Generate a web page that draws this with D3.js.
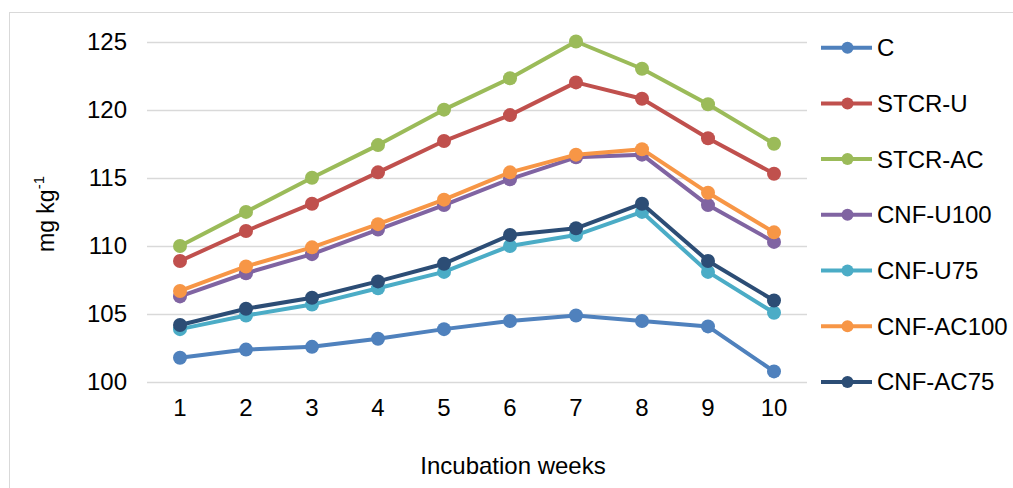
<!DOCTYPE html>
<html>
<head>
<meta charset="utf-8">
<script src="https://cdn.jsdelivr.net/npm/d3@7"></script>
<style>
  body { margin: 0; background: #fff; }
  text { font-family: "Liberation Sans", Arial, sans-serif; fill: #000; }
</style>
</head>
<body>
<div id="chart"></div>
<script>
var weeks = [1, 2, 3, 4, 5, 6, 7, 8, 9, 10];
var yTicks = [100, 105, 110, 115, 120, 125];
var seriesNames = ['C', 'STCR-U', 'STCR-AC', 'CNF-U100', 'CNF-U75', 'CNF-AC100', 'CNF-AC75'];
var seriesColors = ['#4F81BD', '#C0504D', '#9BBB59', '#8064A2', '#4BACC6', '#F79646', '#2C4D75'];

var valuesC = [101.8, 102.4, 102.6, 103.2, 103.9, 104.5, 104.9, 104.5, 104.1, 100.8];
var valuesStcrU = [108.9, 111.1, 113.1, 115.4, 117.7, 119.6, 122.0, 120.8, 117.9, 115.3];
var valuesStcrAc = [110.0, 112.5, 115.0, 117.4, 120.0, 122.3, 125.0, 123.0, 120.4, 117.5];
var valuesCnfU100 = [106.3, 108.0, 109.4, 111.2, 113.0, 114.9, 116.5, 116.7, 113.0, 110.3];
var valuesCnfU75 = [103.9, 104.9, 105.7, 106.9, 108.1, 110.0, 110.8, 112.5, 108.1, 105.1];
var valuesCnfAc100 = [106.7, 108.5, 109.9, 111.6, 113.4, 115.4, 116.7, 117.1, 113.9, 111.0];
var valuesCnfAc75 = [104.2, 105.4, 106.2, 107.4, 108.7, 110.8, 111.3, 113.1, 108.9, 106.0];

var allValues = [valuesC, valuesStcrU, valuesStcrAc, valuesCnfU100, valuesCnfU75, valuesCnfAc100, valuesCnfAc75];

var series = seriesNames.map(function (name, i) {
  return { name: name, color: seriesColors[i], values: allValues[i] };
});

var width = 1013;
var height = 488;
var fontSize = 24;

var svg = d3.select('#chart')
  .append('svg')
  .attr('width', width)
  .attr('height', height);

// chart frame (right and bottom edges fall outside the picture)
svg.append('rect')
  .attr('x', 9.5)
  .attr('y', 12.5)
  .attr('width', 1020)
  .attr('height', 500)
  .attr('fill', 'none')
  .attr('stroke', '#d9d9d9');

var x = d3.scaleBand()
  .domain(weeks)
  .range([147, 807]);

var y = d3.scaleLinear()
  .domain([100, 125])
  .range([382.3, 41.5]);

// gridlines
svg.append('g')
  .selectAll('line')
  .data(yTicks)
  .enter()
  .append('line')
  .attr('x1', 147)
  .attr('x2', 807)
  .attr('y1', function (d) { return Math.round(y(d)) + 0.5; })
  .attr('y2', function (d) { return Math.round(y(d)) + 0.5; })
  .attr('stroke', '#d9d9d9')
  .attr('stroke-width', 1.3);

// y axis labels
var yAxis = d3.axisLeft(y).tickValues(yTicks).tickSize(0).tickPadding(20);
var gy = svg.append('g')
  .attr('transform', 'translate(147,0)')
  .call(yAxis);
gy.select('.domain').remove();
gy.selectAll('text')
  .attr('font-size', fontSize)
  .attr('fill', '#000')
  .attr('font-family', '"Liberation Sans", Arial, sans-serif');

// x axis labels
var xAxis = d3.axisBottom(x).tickSize(0).tickPadding(17);
var gx = svg.append('g')
  .attr('transform', 'translate(0,382.3)')
  .call(xAxis);
gx.select('.domain').remove();
gx.selectAll('text')
  .attr('font-size', fontSize)
  .attr('fill', '#000')
  .attr('font-family', '"Liberation Sans", Arial, sans-serif');

// axis titles
svg.append('text')
  .attr('x', 513)
  .attr('y', 465)
  .attr('text-anchor', 'middle')
  .attr('dominant-baseline', 'central')
  .attr('font-size', fontSize)
  .text('Incubation weeks');

var yTitle = svg.append('text')
  .attr('transform', 'translate(46,214) rotate(-90)')
  .attr('text-anchor', 'middle')
  .attr('dominant-baseline', 'central')
  .attr('font-size', 23);
yTitle.append('tspan').text('mg kg');
yTitle.append('tspan')
  .attr('font-size', 15)
  .attr('dy', -8)
  .text('-1');

// lines and markers
var line = d3.line()
  .x(function (d, i) { return x(weeks[i]) + x.bandwidth() / 2; })
  .y(function (d) { return y(d); });

var groups = svg.append('g')
  .selectAll('g')
  .data(series)
  .enter()
  .append('g');

groups.append('path')
  .attr('d', function (d) { return line(d.values); })
  .attr('fill', 'none')
  .attr('stroke', function (d) { return d.color; })
  .attr('stroke-width', 4)
  .attr('stroke-linejoin', 'round');

groups.selectAll('circle')
  .data(function (d) { return d.values.map(function (v, i) { return { v: v, i: i, color: d.color }; }); })
  .enter()
  .append('circle')
  .attr('cx', function (d) { return x(weeks[d.i]) + x.bandwidth() / 2; })
  .attr('cy', function (d) { return y(d.v); })
  .attr('r', 7)
  .attr('fill', function (d) { return d.color; });

// legend
var legend = svg.append('g')
  .selectAll('g')
  .data(series)
  .enter()
  .append('g')
  .attr('transform', function (d, i) { return 'translate(0,' + (47.7 + i * 55.7) + ')'; });

legend.append('line')
  .attr('x1', 821)
  .attr('x2', 872)
  .attr('stroke', function (d) { return d.color; })
  .attr('stroke-width', 4);

legend.append('circle')
  .attr('cx', 847.5)
  .attr('r', 6)
  .attr('fill', function (d) { return d.color; });

legend.append('text')
  .attr('x', 877)
  .attr('dominant-baseline', 'central')
  .attr('font-size', fontSize)
  .text(function (d) { return d.name; });
</script>
</body>
</html>
